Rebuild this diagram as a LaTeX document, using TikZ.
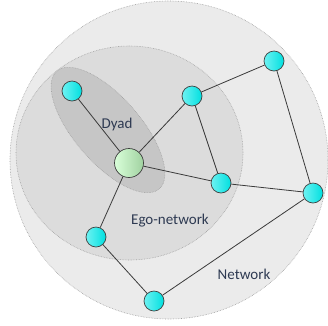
\documentclass[tikz,border=0pt]{standalone}
\usepackage{fontspec}
\setmainfont{Carlito}
\usepackage{tikz}
\usetikzlibrary{calc}
\usetikzlibrary{shapes}
\definecolor{netgray}{HTML}{EBEBEB}
\definecolor{egogray}{HTML}{DCDCDC}
\definecolor{dyadgray}{HTML}{C6C6C6}
\definecolor{rimgray}{HTML}{A0A0A0}
\definecolor{labelblue}{HTML}{2E3A52}
\definecolor{edgegray}{HTML}{3A3A3A}
\tikzset{
  area/.style={draw=rimgray,densely dotted,line width=0.6pt},
  peer/.style={circle,draw=black!75,line width=0.7pt,inner sep=0pt,minimum size=20pt,
    shading=axis,shading angle=45,left color=cyan!55!white!95!black,right color=cyan!75!teal},
  egonode/.style={circle,draw=black!75,line width=0.7pt,inner sep=0pt,minimum size=29pt,
    shading=axis,shading angle=45,left color=green!15!white,right color=green!35!gray!55!white},
  tie/.style={draw=edgegray,line width=0.8pt},
  lbl/.style={text=labelblue,font=\fontsize{15}{18}\selectfont}
}
\begin{document}
\begin{tikzpicture}[x=1pt,y=-1pt]
        \useasboundingbox (0,0) rectangle (328,325);
        % areas
        \draw[area,fill=netgray] (169,160) circle (159pt);
        \draw[area,fill=egogray] (129.5,153) ellipse (113.5pt and 107pt);
        \draw[area,fill=dyadgray,rotate around={-49:(108,130)}] (108,130) ellipse (78pt and 33pt);
        % nodes
        \node[egonode] (ego) at (129,163) {};
        \node[peer] (a) at (72,91) {};
        \node[peer] (b) at (192,96) {};
        \node[peer] (c) at (274,61) {};
        \node[peer] (d) at (221,183) {};
        \node[peer] (e) at (313,193) {};
        \node[peer] (f) at (96,237) {};
        \node[peer] (g) at (154,301) {};
        % ties
        \draw[tie] (ego) -- (a);
        \draw[tie] (ego) -- (b);
        \draw[tie] (ego) -- (d);
        \draw[tie] (ego) -- (f);
        \draw[tie] (b) -- (c);
        \draw[tie] (b) -- (d);
        \draw[tie] (c) -- (e);
        \draw[tie] (d) -- (e);
        \draw[tie] (e) -- (g);
        \draw[tie] (f) -- (g);
        % labels
        \node[lbl] (dyad) at (117,124) {Dyad};
        \node[lbl] (egonet) at (170,221) {Ego-network};
        \node[lbl] (net) at (244,274) {Network};
\end{tikzpicture}
\end{document}
